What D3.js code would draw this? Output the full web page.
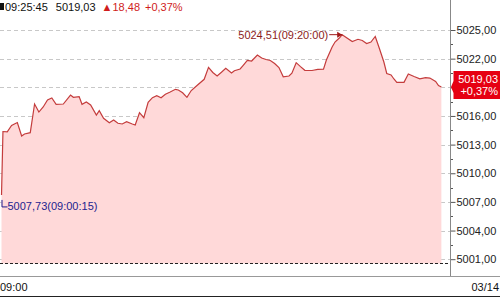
<!DOCTYPE html>
<html>
<head>
<meta charset="utf-8">
<script src="https://d3js.org/d3.v7.min.js"></script>
<style>
  body { margin: 0; background: #fff; }
  svg { display: block; font-family: "Liberation Sans", Arial, sans-serif; }
</style>
</head>
<body>
<script>
// intraday index ticks, 03/14
var times = ["09:00:15","09:00:20","09:00:35","09:00:50","09:01:10","09:01:25","09:01:35","09:01:55",
  "09:02:10","09:02:25","09:02:40","09:02:55","09:03:10","09:03:25","09:03:50","09:04:15","09:04:25",
  "09:04:45","09:04:55","09:05:10","09:05:25","09:05:45","09:05:55","09:06:10","09:06:30","09:06:45",
  "09:07:00","09:07:15","09:07:30","09:07:50","09:08:00","09:08:15","09:08:30","09:08:45","09:09:00",
  "09:09:15","09:09:30","09:09:45","09:10:00","09:10:20","09:10:30","09:10:45","09:11:00","09:11:15",
  "09:11:35","09:12:00","09:12:15","09:12:30","09:12:45","09:13:00","09:13:15","09:13:35","09:13:45",
  "09:14:05","09:14:15","09:14:30","09:14:45","09:15:05","09:15:20","09:15:35","09:15:50","09:16:05",
  "09:16:20","09:16:35","09:16:55","09:17:05","09:17:20","09:17:35","09:17:50","09:18:15","09:18:35",
  "09:18:55","09:19:05","09:19:25","09:19:35","09:19:50","09:20:00","09:20:35","09:20:55","09:21:10",
  "09:21:25","09:21:40","09:21:55","09:22:10","09:22:25","09:22:35","09:22:50","09:23:00","09:23:10",
  "09:23:35","09:23:50","09:24:10","09:24:30","09:24:50","09:25:05","09:25:25","09:25:35","09:25:45"];
var prices = [5007.73,5014.37,5014.34,5015.00,5015.31,5013.90,5014.11,5014.25,
  5017.25,5016.41,5016.94,5017.67,5017.88,5017.22,5017.25,5018.19,5017.95,
  5018.02,5017.22,5017.46,5017.15,5016.10,5016.55,5015.75,5015.29,5015.58,
  5015.23,5015.16,5015.40,5015.16,5015.05,5016.34,5015.82,5017.43,5017.91,
  5018.12,5017.91,5018.27,5018.48,5018.79,5018.72,5018.43,5017.95,5018.66,
  5019.19,5019.84,5021.09,5020.55,5020.18,5020.57,5020.99,5020.50,5020.74,
  5020.92,5021.28,5021.81,5021.75,5022.38,5022.07,5021.91,5021.81,5021.49,
  5021.07,5020.10,5020.18,5020.47,5021.58,5021.16,5020.78,5020.76,5020.88,
  5020.90,5021.86,5023.22,5023.74,5024.16,5024.51,5023.80,5024.03,5023.90,
  5023.59,5023.74,5024.32,5023.01,5021.65,5020.45,5020.29,5019.87,5019.52,
  5019.52,5020.39,5020.13,5019.89,5020.01,5019.97,5019.61,5019.19,5019.03];
var prevClose = 5000.55;
var yTicks = [5001, 5004, 5007, 5010, 5013, 5016, 5019, 5022, 5025];
var header = {time: "09:25:45", last: "5019,03", change: "▲18,48", rate: "+0,37%"};
var maxLabel = "5024,51(09:20:00)";
var minLabel = "5007,73(09:00:15)";
var dateLabel = "03/14", startLabel = "09:00";

var width = 500, height = 297;
var plotRight = 450, axisBottom = 276;
var parse = d3.timeParse("%H:%M:%S");
var data = times.map(function(t, i) { return {t: parse(t), v: prices[i]}; });
var last = data[data.length - 1];

var svg = d3.select("body").append("svg")
  .attr("width", width).attr("height", height);

var x = d3.scaleTime()
  .domain([parse("09:00:00"), parse("09:26:15")])
  .range([-2.8, plotRight]);
var y = d3.scaleLinear()
  .domain([5001, 5025])
  .range([259.2, 30]);

// grid
svg.append("g").selectAll("line")
  .data(yTicks)
  .enter().append("line")
    .attr("x1", 0).attr("x2", plotRight)
    .attr("y1", function(d) { return Math.round(y(d)) + 0.5; })
    .attr("y2", function(d) { return Math.round(y(d)) + 0.5; })
    .attr("stroke", "#c8c8c8")
    .attr("stroke-dasharray", "4,3");

// area + line
var area = d3.area()
  .x(function(d) { return x(d.t); })
  .y0(y(prevClose))
  .y1(function(d) { return y(d.v); });
svg.append("path").datum(data)
  .attr("d", area)
  .attr("fill", "#ffd9d9");

// previous close line
svg.append("line")
  .attr("x1", 0).attr("x2", plotRight)
  .attr("y1", Math.round(y(prevClose)) + 0.5).attr("y2", Math.round(y(prevClose)) + 0.5)
  .attr("stroke", "#222")
  .attr("stroke-dasharray", "3,2");

var line = d3.line()
  .x(function(d) { return x(d.t); })
  .y(function(d) { return y(d.v); });
svg.append("path").datum(data)
  .attr("d", line)
  .attr("fill", "none")
  .attr("stroke", "#c43c3c")
  .attr("stroke-width", 1.2);

// right axis (the label under the last-price box is hidden)
var yAxis = d3.axisRight(y)
  .tickValues(yTicks)
  .tickSize(5)
  .tickFormat(function(d) { return d3.format(".2f")(d).replace(".", ","); });
var ag = svg.append("g")
  .attr("transform", "translate(" + (plotRight + 0.5) + ",0)")
  .call(yAxis);
ag.select(".domain").remove();
ag.selectAll(".tick line").attr("stroke", "#555");
ag.selectAll(".tick text")
  .attr("x", 6)
  .attr("font-size", 11)
  .attr("font-family", "Liberation Sans, Arial, sans-serif")
  .attr("fill", "#222");
ag.selectAll(".tick").filter(function(d) { return Math.abs(y(d) - y(last.v)) < 12; })
  .select("text").remove();
var minor = d3.range(5002.5, 5025, 3);
svg.append("g").selectAll("line")
  .data(minor)
  .enter().append("line")
    .attr("x1", plotRight).attr("x2", plotRight + 3)
    .attr("y1", function(d) { return Math.round(y(d)) + 0.5; })
    .attr("y2", function(d) { return Math.round(y(d)) + 0.5; })
    .attr("stroke", "#555");

svg.append("line")
  .attr("x1", plotRight + 0.5).attr("x2", plotRight + 0.5)
  .attr("y1", 0).attr("y2", axisBottom)
  .attr("stroke", "#888");
svg.append("line")
  .attr("x1", 0).attr("x2", width)
  .attr("y1", axisBottom + 0.5).attr("y2", axisBottom + 0.5)
  .attr("stroke", "#999");
svg.append("line")
  .attr("x1", 0).attr("x2", width)
  .attr("y1", height - 0.5).attr("y2", height - 0.5)
  .attr("stroke", "#222");

// x labels
svg.append("text")
  .attr("x", 0).attr("y", 291)
  .attr("font-size", 11).attr("fill", "#111")
  .text(startLabel);
svg.append("text")
  .attr("x", 499).attr("y", 291)
  .attr("text-anchor", "end")
  .attr("font-size", 11).attr("fill", "#111")
  .text(dateLabel);

// last price callout
var ly = y(last.v);
svg.append("path")
  .attr("d", "M" + (plotRight + 1) + "," + ly + " L453.5," + (ly - 6) + " L453.5," + (ly - 16) +
    " L500," + (ly - 16) + " L500," + (ly + 12) + " L453.5," + (ly + 12) + " L453.5," + (ly + 6) + " Z")
  .attr("fill", "#e60012");
svg.append("text")
  .attr("x", 498).attr("y", ly - 4)
  .attr("text-anchor", "end")
  .attr("font-size", 11).attr("fill", "#fff")
  .text(header.last);
svg.append("text")
  .attr("x", 498).attr("y", ly + 8)
  .attr("text-anchor", "end")
  .attr("font-size", 11).attr("fill", "#fff")
  .text(header.rate);

// max annotation
var hi = data[d3.maxIndex(data, function(d) { return d.v; })];
var hx = x(hi.t), hy = y(hi.v);
svg.append("line")
  .attr("x1", hx - 13).attr("x2", hx)
  .attr("y1", hy).attr("y2", hy)
  .attr("stroke", "#a01818");
svg.append("path")
  .attr("d", "M" + hx + "," + hy + " l-5,-3 l0,6 Z")
  .attr("fill", "#a01818");
svg.append("text")
  .attr("x", hx - 14).attr("y", hy + 4)
  .attr("text-anchor", "end")
  .attr("font-size", 11).attr("fill", "#8b1c1c")
  .text(maxLabel);

// min annotation
var lo = data[d3.minIndex(data, function(d) { return d.v; })];
var mx = x(lo.t), my = y(lo.v);
svg.append("path")
  .attr("d", "M" + (mx + 0.5) + "," + (my + 5) + " V" + (my + 12) + " H" + (mx + 6))
  .attr("fill", "none")
  .attr("stroke", "#1f1f8f");
svg.append("text")
  .attr("x", mx + 6).attr("y", my + 15)
  .attr("font-size", 11).attr("fill", "#23238f")
  .text(minLabel);

// header
svg.append("rect")
  .attr("x", 0).attr("y", 3).attr("width", 4).attr("height", 7)
  .attr("fill", "#111");
var ht = svg.append("text")
  .attr("x", 5).attr("y", 11)
  .attr("font-size", 11);
ht.append("tspan").attr("fill", "#111").text(header.time);
ht.append("tspan").attr("dx", 8).attr("fill", "#111").text(header.last);
ht.append("tspan").attr("dx", 6).attr("fill", "#d01c1c").text(header.change);
ht.append("tspan").attr("dx", 5).attr("fill", "#d01c1c").text(header.rate);
</script>
</body>
</html>
